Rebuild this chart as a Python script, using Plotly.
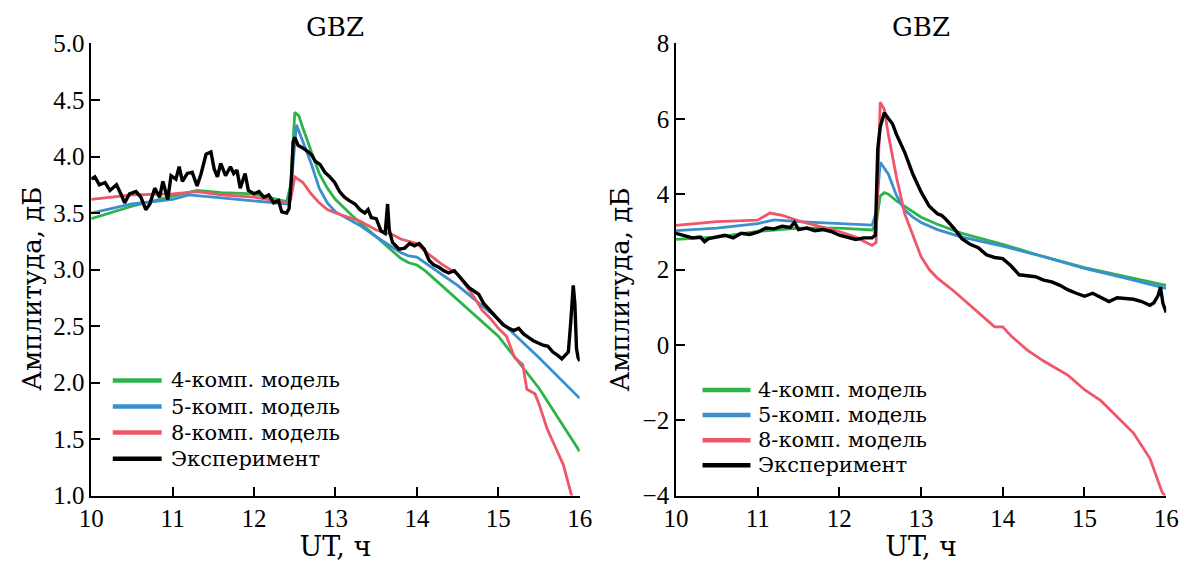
import plotly.graph_objects as go

# ---------------- Left panel (range 1..5 dB) ----------------
L_t_m4 = [10.0, 10.5, 11.0, 11.3, 11.6, 12.0, 12.4, 12.45, 12.5, 12.55, 12.6, 12.7, 12.8, 12.9, 13.0, 13.2, 13.5, 13.8, 13.9, 14.0, 14.1, 14.5, 15.0, 15.5, 16.0]
L_v_m4 = [3.45, 3.56, 3.65, 3.70, 3.68, 3.67, 3.60, 3.75, 4.39, 4.36, 4.25, 4.04, 3.85, 3.72, 3.62, 3.48, 3.29, 3.10, 3.06, 3.04, 2.99, 2.73, 2.41, 1.95, 1.39]

L_t_m5 = [10.0, 10.5, 11.0, 11.2, 11.5, 12.0, 12.4, 12.45, 12.52, 12.6, 12.7, 12.8, 12.9, 13.0, 13.3, 13.5, 13.8, 13.9, 14.0, 14.3, 14.5, 15.0, 15.5, 16.0]
L_v_m5 = [3.50, 3.58, 3.62, 3.66, 3.64, 3.61, 3.58, 3.70, 4.28, 4.13, 3.94, 3.72, 3.59, 3.51, 3.39, 3.29, 3.15, 3.12, 3.11, 2.96, 2.86, 2.56, 2.22, 1.86]

L_t_m8 = [10.0, 10.5, 11.0, 11.3, 11.6, 12.0, 12.4, 12.45, 12.5, 12.6, 12.7, 12.8, 12.9, 13.0, 13.3, 13.5, 13.7, 13.8, 14.0, 14.1, 14.3, 14.5, 14.6, 14.7, 14.8, 14.9, 15.0, 15.1, 15.2, 15.3, 15.35, 15.45, 15.5, 15.6, 15.7, 15.8, 15.9, 15.95]
L_v_m8 = [3.62, 3.66, 3.67, 3.69, 3.66, 3.64, 3.59, 3.62, 3.82, 3.77, 3.67, 3.59, 3.53, 3.50, 3.43, 3.35, 3.31, 3.27, 3.23, 3.16, 3.05, 2.96, 2.86, 2.76, 2.64, 2.57, 2.48, 2.41, 2.22, 2.16, 1.94, 1.90, 1.81, 1.59, 1.43, 1.27, 1.00, 0.85]

L_t_exp = [10.0, 10.045, 10.1, 10.17, 10.23, 10.31, 10.37, 10.41, 10.47, 10.55, 10.61, 10.67, 10.72, 10.78, 10.84, 10.88, 10.94, 10.98,
           11.04, 11.08, 11.12, 11.18, 11.24, 11.30, 11.35, 11.41, 11.47, 11.51, 11.55, 11.59, 11.65, 11.71, 11.75, 11.79, 11.83, 11.89, 11.93,
           12.0, 12.06, 12.12, 12.18, 12.24, 12.30, 12.34, 12.40, 12.43, 12.46, 12.48, 12.50, 12.54, 12.61, 12.67, 12.71, 12.75, 12.81, 12.87, 12.93, 12.99,
           13.05, 13.11, 13.17, 13.24, 13.30, 13.36, 13.40, 13.44, 13.50, 13.56, 13.61, 13.64, 13.66, 13.70, 13.74, 13.78, 13.85, 13.91, 13.97,
           14.03, 14.09, 14.15, 14.21, 14.27, 14.33, 14.39, 14.46, 14.52, 14.58, 14.64, 14.70, 14.76, 14.82, 14.88, 14.94,
           15.0, 15.06, 15.13, 15.19, 15.25, 15.31, 15.37, 15.43, 15.49, 15.55, 15.61, 15.67, 15.73, 15.78, 15.82, 15.86, 15.89, 15.92, 15.94, 15.96, 15.98, 16.0]
L_v_exp = [3.80, 3.82, 3.75, 3.77, 3.70, 3.75, 3.66, 3.59, 3.67, 3.69, 3.64, 3.53, 3.58, 3.72, 3.64, 3.78, 3.62, 3.83,
           3.80, 3.91, 3.78, 3.85, 3.86, 3.74, 3.85, 4.02, 4.04, 3.89, 3.82, 3.94, 3.83, 3.91, 3.85, 3.88, 3.72, 3.85, 3.70,
           3.67, 3.69, 3.64, 3.66, 3.59, 3.61, 3.51, 3.50, 3.54, 3.82, 4.13, 4.17, 4.10, 4.07, 4.04, 4.01, 3.96, 3.93, 3.86, 3.82, 3.77,
           3.69, 3.64, 3.61, 3.58, 3.53, 3.50, 3.53, 3.46, 3.45, 3.34, 3.32, 3.58, 3.35, 3.24, 3.21, 3.18, 3.19, 3.23, 3.21,
           3.23, 3.18, 3.08, 3.04, 3.02, 2.99, 2.97, 2.99, 2.94, 2.89, 2.84, 2.81, 2.78, 2.70, 2.65, 2.61,
           2.56, 2.51, 2.48, 2.46, 2.48, 2.43, 2.40, 2.37, 2.35, 2.33, 2.32, 2.27, 2.24, 2.21, 2.24, 2.27, 2.54, 2.86, 2.70, 2.30, 2.22, 2.19]

# ---------------- Right panel (range -4..8 dB) ----------------
R_t_m4 = [10.0, 10.5, 11.0, 11.5, 12.0, 12.4, 12.45, 12.5, 12.55, 12.6, 12.7, 12.8, 13.0, 13.2, 13.5, 14.0, 14.5, 15.0, 15.5, 16.0]
R_v_m4 = [2.80, 2.86, 3.01, 3.10, 3.10, 3.05, 3.20, 3.95, 4.04, 4.00, 3.82, 3.68, 3.39, 3.20, 2.96, 2.67, 2.34, 2.05, 1.81, 1.58]

R_t_m5 = [10.0, 10.5, 11.0, 11.2, 11.5, 12.0, 12.4, 12.45, 12.5, 12.6, 12.7, 12.8, 12.9, 13.0, 13.2, 13.5, 14.0, 14.5, 15.0, 15.5, 16.0]
R_v_m5 = [3.03, 3.10, 3.22, 3.32, 3.27, 3.22, 3.18, 3.50, 4.85, 4.53, 3.96, 3.58, 3.39, 3.25, 3.06, 2.86, 2.62, 2.34, 2.03, 1.77, 1.50]

R_t_m8 = [10.0, 10.5, 11.0, 11.15, 11.3, 11.5, 11.7, 12.0, 12.2, 12.4, 12.45, 12.48, 12.5, 12.55, 12.6, 12.7, 12.8, 12.9, 13.0, 13.1, 13.2, 13.4, 13.6, 13.8, 13.9, 14.0, 14.1, 14.3, 14.5, 14.8, 15.0, 15.2, 15.4, 15.6, 15.8, 15.95, 16.0]
R_v_m8 = [3.17, 3.27, 3.31, 3.50, 3.44, 3.29, 3.18, 3.01, 2.86, 2.64, 2.72, 5.39, 6.44, 6.25, 5.58, 4.44, 3.48, 2.91, 2.34, 2.00, 1.77, 1.43, 1.05, 0.67, 0.48, 0.48, 0.24, -0.14, -0.43, -0.81, -1.19, -1.48, -1.91, -2.34, -3.01, -3.91, -4.06]

R_t_exp = [10.0, 10.1, 10.2, 10.3, 10.35, 10.4, 10.5, 10.6, 10.7, 10.8, 10.9, 11.0, 11.1, 11.2, 11.3, 11.4, 11.45, 11.5, 11.6, 11.7, 11.8, 11.9,
           12.0, 12.1, 12.2, 12.3, 12.4, 12.44, 12.47, 12.5, 12.55, 12.6, 12.65, 12.7, 12.8, 12.9, 13.0, 13.1, 13.2, 13.25, 13.3, 13.4, 13.5, 13.6, 13.7, 13.8, 13.9,
           14.0, 14.1, 14.2, 14.3, 14.4, 14.5, 14.6, 14.7, 14.8, 14.9, 15.0, 15.1, 15.2, 15.3, 15.4, 15.5, 15.6, 15.7, 15.8, 15.85, 15.9, 15.93, 15.96, 16.0]
R_v_exp = [2.96, 2.91, 2.84, 2.86, 2.74, 2.82, 2.86, 2.91, 2.84, 2.96, 2.93, 2.99, 3.10, 3.08, 3.15, 3.12, 3.25, 3.06, 3.10, 3.03, 3.06, 3.01,
           2.91, 2.86, 2.80, 2.84, 2.84, 2.91, 5.20, 5.78, 6.16, 6.01, 5.87, 5.58, 5.11, 4.53, 4.06, 3.68, 3.48, 3.44, 3.34, 3.10, 2.82, 2.67, 2.58, 2.39, 2.32,
           2.29, 2.10, 1.86, 1.84, 1.81, 1.72, 1.67, 1.58, 1.46, 1.37, 1.29, 1.37, 1.27, 1.15, 1.25, 1.23, 1.21, 1.15, 1.05, 1.12, 1.31, 1.53, 1.10, 0.86]

names = ["4-комп. модель", "5-комп. модель", "8-комп. модель", "Эксперимент"]
colors = ["#2db34a", "#3a8fd0", "#f0566a", "#000000"]
widths = [2.8, 2.8, 2.8, 3.4]

FONT = "Liberation Serif, Times New Roman, serif"
TFONT = "DejaVu Serif, serif"
W, H = 1185, 562

fig = go.Figure()
left = [(L_t_m4, L_v_m4), (L_t_m5, L_v_m5), (L_t_m8, L_v_m8), (L_t_exp, L_v_exp)]
right = [(R_t_m4, R_v_m4), (R_t_m5, R_v_m5), (R_t_m8, R_v_m8), (R_t_exp, R_v_exp)]

for (t, v), n, c, w in zip(left, names, colors, widths):
    fig.add_trace(go.Scatter(x=t, y=v, mode="lines", name=n, line=dict(color=c, width=w),
                             xaxis="x", yaxis="y", showlegend=False))
for (t, v), n, c, w in zip(right, names, colors, widths):
    fig.add_trace(go.Scatter(x=t, y=v, mode="lines", name=n, line=dict(color=c, width=w),
                             xaxis="x2", yaxis="y2", showlegend=False))

# Legend blocks (layout only): key line start/end and text start in px, first row centre, row pitch
legend_blocks = [dict(x0=102, x1=152, xt=159, y0=386, dy=27.4),
                 dict(x0=705, x1=754, xt=760, y0=396, dy=26.4)]
shapes, annotations = [], []
for blk in legend_blocks:
    for i, (n, c) in enumerate(zip(names, colors)):
        yc = 1 - (blk["y0"] + i * blk["dy"]) / H
        shapes.append(dict(type="line", xref="paper", yref="paper", x0=blk["x0"] / W, x1=blk["x1"] / W,
                           y0=yc, y1=yc, line=dict(color=c, width=4.5)))
        annotations.append(dict(text=n, x=blk["xt"] / W, y=yc, xref="paper", yref="paper", showarrow=False,
                                xanchor="left", yanchor="middle",
                                font=dict(family=TFONT, size=21, color="black")))

axis_common = dict(showgrid=False, zeroline=False, showline=True, linecolor="black", linewidth=1.5,
                   ticks="inside", ticklen=9, tickwidth=1.5, tickcolor="black",
                   tickfont=dict(family=FONT, size=25, color="black"), mirror=False)

LX = [0.0675, 0.489]
RX = [0.572, 0.995]
YD = [0.098, 0.943]

xtitle = dict(text="UT, ч", font=dict(family=TFONT, size=27), standoff=3)

for dom in (LX, RX):
    annotations.append(dict(text="GBZ", x=(dom[0] + dom[1]) / 2, y=1 - 15 / H, xref="paper", yref="paper",
                            showarrow=False, font=dict(family=TFONT, size=26, color="black"),
                            xanchor="center", yanchor="middle"))
# Y-axis titles (placed as rotated annotations)
for xpix in (20, 621):
    annotations.append(dict(text="Амплитуда, дБ", x=xpix / W, y=1 - 290 / H, xref="paper", yref="paper",
                            showarrow=False, textangle=-90, xanchor="center", yanchor="middle",
                            font=dict(family=TFONT, size=26, color="black")))

fig.update_layout(
    width=W, height=H,
    margin=dict(l=0, r=0, t=0, b=0),
    paper_bgcolor="white", plot_bgcolor="white",
    font=dict(family=FONT, color="black"),
    xaxis=dict(domain=LX, range=[10, 16], dtick=1, tick0=10, anchor="y", title=xtitle, **axis_common),
    yaxis=dict(domain=YD, range=[1, 5], dtick=0.5, tick0=1, tickformat=".1f", anchor="x", **axis_common),
    xaxis2=dict(domain=RX, range=[10, 16], dtick=1, tick0=10, anchor="y2", title=xtitle, **axis_common),
    yaxis2=dict(domain=YD, range=[-4, 8], dtick=2, tick0=0, anchor="x2", **axis_common),
    shapes=shapes,
    annotations=annotations,
    showlegend=False,
)

fig.write_html("out.html")
